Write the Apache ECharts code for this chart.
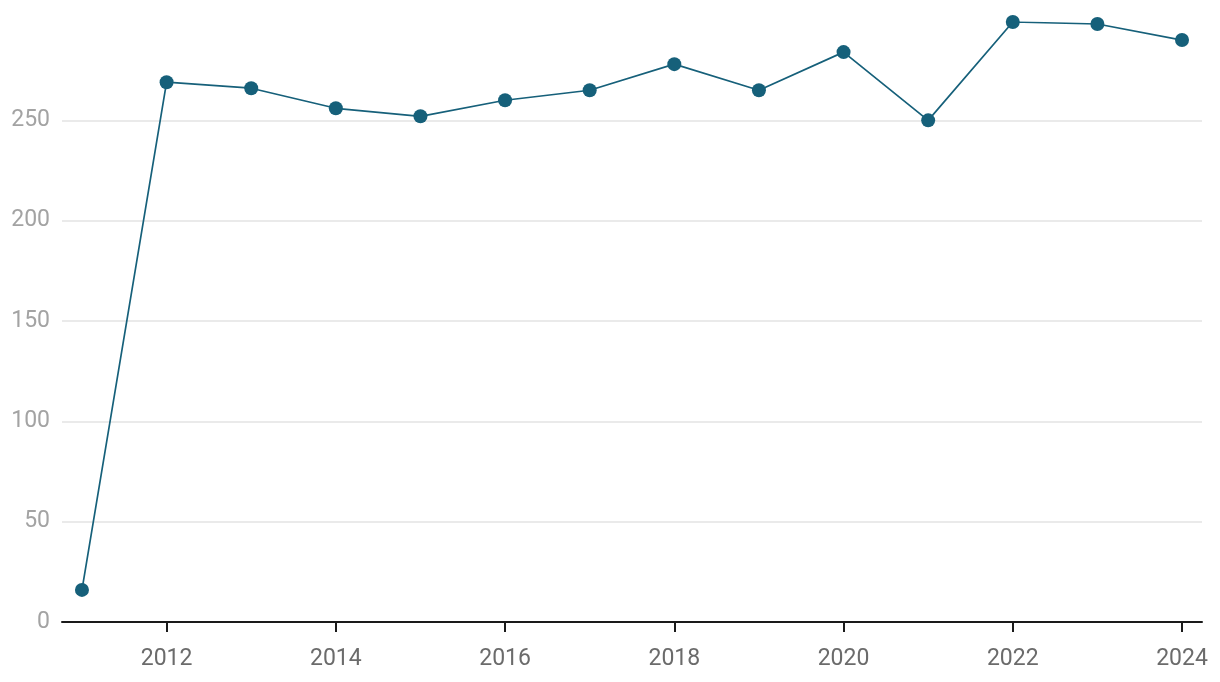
<!DOCTYPE html>
<html><head><meta charset="utf-8">
<script src="https://cdn.jsdelivr.net/npm/echarts@6/dist/echarts.min.js"></script>
<style>html,body{margin:0;padding:0;background:#fff}#c{width:1220px;height:682px}</style>
</head><body><div id="c"></div>
<script>
var years = [2011,2012,2013,2014,2015,2016,2017,2018,2019,2020,2021,2022,2023,2024];
var values = [16,269,266,256,252,260,265,278,265,284,250,299,298,290];
var xTicks = [2012,2014,2016,2018,2020,2022,2024];
var yTicks = [0,50,100,150,200,250];

var chart = echarts.init(document.getElementById('c'));
chart.setOption({
  animation:false,
  grid:{left:62,right:18,top:22,bottom:60,containLabel:false},
  xAxis:{type:'value',min:2010.764,max:2024.236,
    axisLine:{lineStyle:{color:'#1a1a1a',width:2}},
    axisTick:{show:true,length:10,lineStyle:{color:'#1a1a1a',width:2},customValues:xTicks},
    axisLabel:{customValues:xTicks,color:'#6b6b6b',fontFamily:'Roboto',fontSize:23,margin:26,formatter:function(v){return String(v);}},
    splitLine:{show:false}},
  yAxis:{type:'value',min:0,max:299,interval:50,
    axisLine:{show:false},axisTick:{show:false},
    axisLabel:{color:'#a3a3a3',fontFamily:'Roboto',fontSize:23,margin:12,showMaxLabel:false},
    splitLine:{lineStyle:{color:'#e3e3e3',width:1.5},showMaxLine:false}},
  series:[{type:'line',data:years.map(function(y,i){return [y,values[i]];}),
    symbol:'circle',symbolSize:14,
    lineStyle:{color:'#16607a',width:1.7},
    itemStyle:{color:'#16607a'}}]
});
</script></body></html>
